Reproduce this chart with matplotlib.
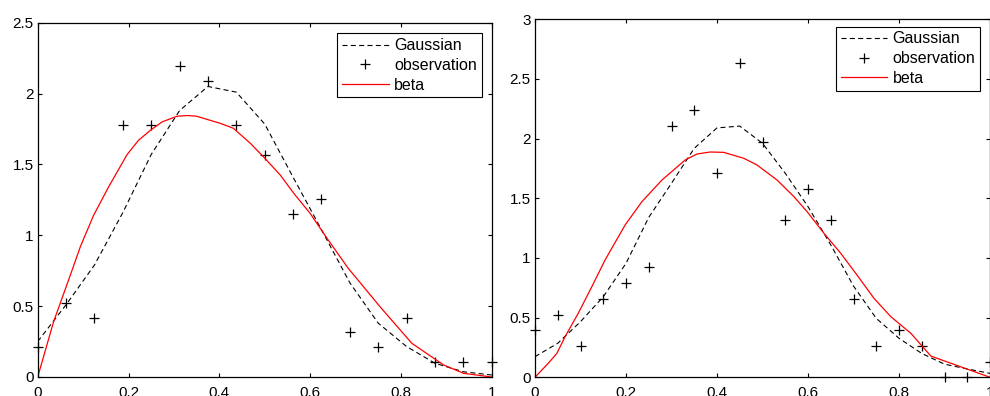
import matplotlib
matplotlib.use("Agg")
import matplotlib.pyplot as plt

plt.rcParams['font.family'] = ['Liberation Sans', 'DejaVu Sans']
plt.rcParams['lines.scale_dashes'] = False

# ---------------- left panel data ----------------
x_obs_left = [0, 0.0625, 0.125, 0.1875, 0.25, 0.3125, 0.375, 0.4375, 0.5,
              0.5625, 0.625, 0.6875, 0.75, 0.8125, 0.875, 0.9375, 1.0]
obs_left = [0.209, 0.523, 0.418, 1.778, 1.778, 2.196, 2.092, 1.778, 1.569,
            1.150, 1.255, 0.314, 0.209, 0.418, 0.105, 0.105, 0.105]
gauss_left = [0.25, 0.51, 0.79, 1.16, 1.57, 1.88, 2.05, 2.01, 1.785,
              1.41, 1.04, 0.665, 0.38, 0.215, 0.097, 0.037, 0.014]
x_beta_left = [0, 0.035, 0.072, 0.094, 0.123, 0.156, 0.197, 0.222, 0.248, 0.274,
               0.307, 0.33, 0.35, 0.402, 0.431, 0.468, 0.497, 0.534, 0.567, 0.600,
               0.637, 0.684, 0.754, 0.824, 0.894, 0.938, 1.0]
beta_left = [0, 0.39, 0.72, 0.92, 1.14, 1.34, 1.57, 1.67, 1.74, 1.80,
             1.84, 1.845, 1.84, 1.79, 1.755, 1.65, 1.555, 1.426, 1.284, 1.155,
             0.98, 0.767, 0.496, 0.238, 0.085, 0.026, 0.0]

# ---------------- right panel data ----------------
x_obs_right = [0, 0.05, 0.1, 0.15, 0.2, 0.25, 0.3, 0.35, 0.4, 0.45, 0.5,
               0.55, 0.6, 0.65, 0.7, 0.75, 0.8, 0.85, 0.9, 0.95, 1.0]
obs_right = [0.395, 0.526, 0.263, 0.658, 0.789, 0.921, 2.105, 2.237, 1.711, 2.632, 1.974,
             1.316, 1.579, 1.316, 0.658, 0.263, 0.395, 0.263, 0.0, 0.0, 0.132]
gauss_right = [0.173, 0.285, 0.466, 0.675, 0.955, 1.34, 1.626, 1.919, 2.09, 2.105, 1.961,
               1.71, 1.43, 1.11, 0.765, 0.494, 0.327, 0.20, 0.11, 0.07, 0.033]
x_beta_right = [0, 0.029, 0.048, 0.066, 0.095, 0.125, 0.154, 0.198, 0.235, 0.279,
                0.33, 0.356, 0.385, 0.415, 0.459, 0.488, 0.532, 0.569, 0.598, 0.635,
                0.672, 0.705, 0.745, 0.782, 0.826, 0.870, 1.0]
beta_right = [0, 0.117, 0.2, 0.34, 0.536, 0.76, 0.983, 1.276, 1.472, 1.653,
              1.821, 1.871, 1.888, 1.885, 1.835, 1.779, 1.653, 1.514, 1.388, 1.207,
              1.039, 0.871, 0.662, 0.508, 0.369, 0.178, 0.0]

x_ticks = [0, 0.2, 0.4, 0.6, 0.8, 1.0]
x_ticklabels = ["0", "0.2", "0.4", "0.6", "0.8", "1"]
y_ticks_left = [0, 0.5, 1, 1.5, 2, 2.5]
y_ticklabels_left = ["0", "0.5", "1", "1.5", "2", "2.5"]
y_ticks_right = [0, 0.5, 1, 1.5, 2, 2.5, 3]
y_ticklabels_right = ["0", "0.5", "1", "1.5", "2", "2.5", "3"]
labels = ["Gaussian", "observation", "beta"]

W, H = 990, 396
fig = plt.figure(figsize=(9.9, 3.96), dpi=100)
ax1 = fig.add_axes([37.7 / W, (H - 377.0) / H, 454.0 / W, 354.3 / H])
ax2 = fig.add_axes([535.0 / W, (H - 377.3) / H, 455.0 / W, 358.0 / H])


def draw(ax, xo, yo, yg, xb, yb, ymax, yt, ytl, anchor):
    ax.plot(xo, yg, color='black', lw=0.8, dashes=(3.6, 2.4), label=labels[0])
    ax.plot(xo, yo, linestyle='none', marker='+', color='black', ms=7.2, mew=0.9,
            clip_on=False, label=labels[1])
    ax.plot(xb, yb, color='red', lw=0.9, label=labels[2])
    ax.set_xlim(0, 1)
    ax.set_ylim(0, ymax)
    ax.set_xticks(x_ticks)
    ax.set_xticklabels(x_ticklabels)
    ax.set_yticks(yt)
    ax.set_yticklabels(ytl)
    ax.tick_params(direction='in', length=3.0, width=0.8, top=True, right=True,
                   labelsize=11, color='black')
    ax.tick_params(axis='x', pad=6.5)
    ax.tick_params(axis='y', pad=3.0)
    for s in ax.spines.values():
        s.set_linewidth(0.9)
    leg = ax.legend(loc='upper right', bbox_to_anchor=anchor, borderaxespad=0,
                    fontsize=11.5, fancybox=False, framealpha=1, edgecolor='black',
                    borderpad=0.3, handlelength=2.9, handletextpad=0.35,
                    labelspacing=0.3, numpoints=1)
    leg.get_frame().set_linewidth(0.8)


draw(ax1, x_obs_left, obs_left, gauss_left, x_beta_left, beta_left, 2.5,
     y_ticks_left, y_ticklabels_left, (1 - 10.0 / 454, 1 - 10.6 / 354.3))
draw(ax2, x_obs_right, obs_right, gauss_right, x_beta_right, beta_right, 3.0,
     y_ticks_right, y_ticklabels_right, (1 - 10.0 / 455, 1 - 7.4 / 358))

fig.savefig("out.png", dpi=100)
